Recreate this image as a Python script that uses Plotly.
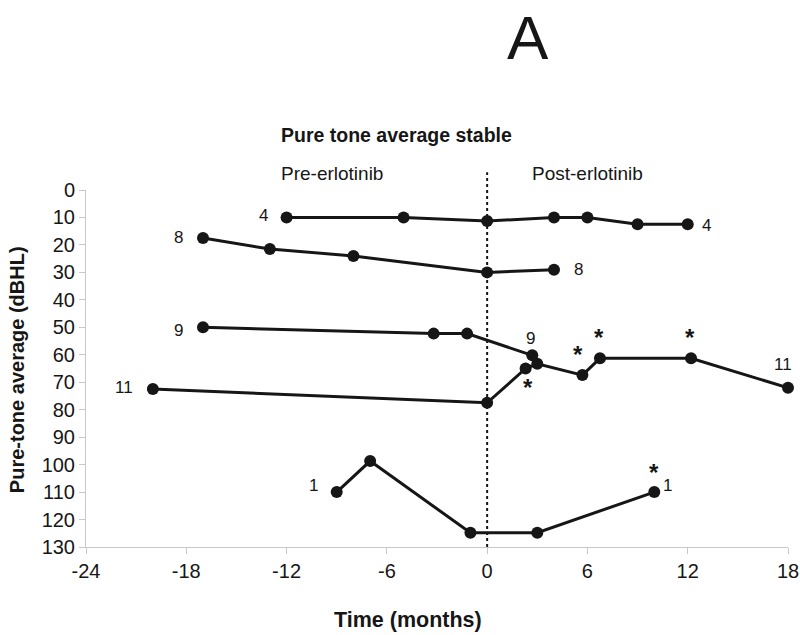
import plotly.graph_objects as go

# time from erlotinib start (months) and pure-tone average (dBHL) per patient
p4_t = [-12, -5, 0, 4, 6, 9, 12]
p4_v = [10, 10, 11.3, 10, 10, 12.5, 12.5]
p8_t = [-17, -13, -8, 0, 4]
p8_v = [17.5, 21.5, 24, 30, 29]
p9_t = [-17, -3.2, -1.2, 2.7]
p9_v = [50, 52.3, 52.3, 60.2]
p11_t = [-20, 0, 2.3, 3, 5.7, 6.75, 12.2, 18]
p11_v = [72.5, 77.5, 65, 63.3, 67.4, 61.3, 61.3, 72]
p1_t = [-9, -7, -1, 3, 10]
p1_v = [110, 98.7, 124.8, 124.8, 110]

patient_ids = ["4", "8", "9", "11", "1"]
# significant change markers: (patient, point index)
star_points = [("11", 2), ("11", 4), ("11", 5), ("11", 6), ("1", 4)]

x_ticks = [-24, -18, -12, -6, 0, 6, 12, 18]
y_ticks = list(range(0, 140, 10))

series = {
    "4": (p4_t, p4_v),
    "8": (p8_t, p8_v),
    "9": (p9_t, p9_v),
    "11": (p11_t, p11_v),
    "1": (p1_t, p1_v),
}

FONT = "Liberation Sans, Arial, sans-serif"
INK = "#161616"

fig = go.Figure()
for pid in patient_ids:
    t, v = series[pid]
    fig.add_trace(go.Scatter(
        x=t, y=v, mode="lines+markers", name=pid,
        line=dict(color=INK, width=3),
        marker=dict(color=INK, size=12),
        cliponaxis=False, showlegend=False,
    ))

# patient number labels: (start shift), (end shift) in px
label_shift = {
    "4": ((-23, 2), (19, -1)),
    "8": ((-25, 1), (24, 0)),
    "9": ((-25, -3), (-2, 17)),
    "11": ((-29, 2), (-5, 23)),
    "1": ((-23, 7), (13, 7)),
}
annotations = []
for pid in patient_ids:
    t, v = series[pid]
    (sx0, sy0), (sx1, sy1) = label_shift[pid]
    annotations.append(dict(x=t[0], y=v[0], text=pid, showarrow=False,
                            xshift=sx0, yshift=sy0, font=dict(size=17, color=INK)))
    annotations.append(dict(x=t[-1], y=v[-1], text=pid, showarrow=False,
                            xshift=sx1, yshift=sy1, font=dict(size=17, color=INK)))

star_shift = {("11", 2): (2, -19), ("11", 4): (-4, 21), ("11", 5): (-1, 21),
              ("11", 6): (-1, 21), ("1", 4): (0, 20)}
for key in star_points:
    pid, i = key
    t, v = series[pid]
    dx, dy = star_shift[key]
    annotations.append(dict(x=t[i], y=v[i], text="<b>*</b>", showarrow=False,
                            xshift=dx, yshift=dy, font=dict(size=24, color=INK)))

def note(text, x, y, size, xref="paper", angle=0, yanchor="middle"):
    return dict(xref=xref, yref="paper", x=x, y=y, text=text, showarrow=False,
                xanchor="center", yanchor=yanchor, textangle=angle,
                font=dict(size=size, color=INK))

annotations += [
    note("A", 0.63, 1.53, 62, yanchor="top"),
    note("<b>Pure tone average stable</b>", 0.443, 1.155, 19.5),
    note("Pre-erlotinib", -9.27, 1.045, 19, xref="x"),
    note("Post-erlotinib", 6.0, 1.045, 19, xref="x"),
    note("<b>Time (months)</b>", 0.459, -0.205, 21.5),
    note("<b>Pure-tone average (dBHL)</b>", -0.098, 0.496, 20, angle=-90),
]

fig.add_shape(type="line", xref="x", yref="paper", x0=0, x1=0, y0=0, y1=1.05,
              line=dict(color=INK, width=2, dash="dot"))

fig.update_layout(
    width=800, height=635,
    margin=dict(l=86, r=12, t=190, b=88),
    paper_bgcolor="white", plot_bgcolor="white",
    font=dict(family=FONT, color=INK),
    annotations=annotations,
    showlegend=False,
)
fig.update_xaxes(range=[-24, 18], tickvals=x_ticks, ticktext=[str(v) for v in x_ticks],
                 showgrid=False, zeroline=False, automargin=False,
                 showline=True, linecolor="#c8c8c8", linewidth=1,
                 ticks="outside", ticklen=6, tickcolor="#c8c8c8",
                 tickfont=dict(size=20, color=INK))
fig.update_yaxes(range=[130, 0], tickvals=y_ticks, showgrid=False, zeroline=False,
                 automargin=False,
                 showline=True, linecolor="#c8c8c8", linewidth=1,
                 ticks="outside", ticklen=6, tickcolor="#c8c8c8",
                 tickfont=dict(size=20, color=INK))

fig.write_html(
    "out.html",
    config={"displayModeBar": False, "responsive": False},
    post_script="document.body.style.margin='0';",
)
